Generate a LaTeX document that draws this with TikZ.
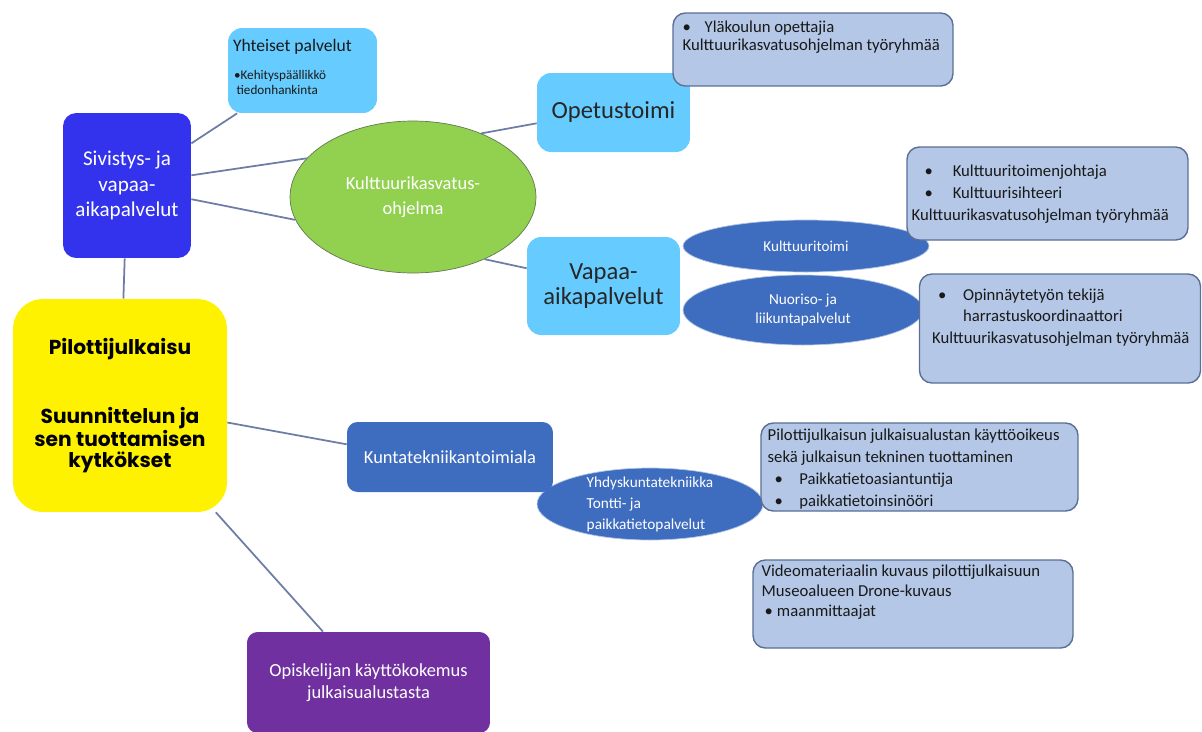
\documentclass[tikz,border=0pt]{standalone}
\usepackage{fontspec}
\setmainfont{Carlito}
\newfontfamily\titlefont{Poppins}
\usepackage{tikz}
\usetikzlibrary{shapes.geometric, positioning}
\definecolor{skyfill}{RGB}{102,204,255}
\definecolor{royal}{RGB}{51,51,238}
\definecolor{leaf}{RGB}{146,208,80}
\definecolor{leafline}{RGB}{100,120,80}
\definecolor{steelfill}{RGB}{180,199,231}
\definecolor{steelline}{RGB}{90,110,150}
\definecolor{midblue}{RGB}{62,108,190}
\definecolor{plum}{RGB}{112,48,160}
\definecolor{linkline}{RGB}{110,125,165}
\newcommand{\bulitem}[1]{\makebox[#1][l]{\textbullet}}
\tikzstyle{skybox} = [rectangle, fill=skyfill, rounded corners=8pt, text=black!85, align=center, font=\fontsize{14}{14}\selectfont]
\tikzstyle{steelbox} = [rectangle, draw=steelline, line width=0.8pt, fill=steelfill, rounded corners=7pt]
\tikzstyle{note} = [anchor=north west, inner sep=0pt, align=left, text=black!90, font=\fontsize{9.5}{12.5}\selectfont]
\tikzstyle{oval} = [ellipse, draw=white!60!midblue, fill=midblue, text=white, align=center, inner sep=0pt]
\tikzstyle{link} = [draw=linkline, line width=1pt]

\begin{document}
\begin{tikzpicture}[x=0.02cm, y=-0.02cm]
            \useasboundingbox (0,0) rectangle (1202,731);
            % Ellipses
            \node[ellipse, draw=leafline, fill=leaf, text=white, align=center, inner sep=0pt, minimum width=4.92cm, minimum height=3.04cm, font=\fontsize{10.5}{14}\selectfont] (kko) at (413,197) {Kulttuurikasvatus-\\ohjelma};
            \node[oval, minimum width=4.92cm, minimum height=1.04cm, font=\fontsize{8.6}{10}\selectfont] (ktt) at (806,246) {Kulttuuritoimi};
            \node[oval, minimum width=4.80cm, minimum height=1.40cm, font=\fontsize{8.7}{10.8}\selectfont] (nuo) at (803,310) {Nuoriso- ja\\liikuntapalvelut};
            \node[oval, align=left, inner ysep=-4pt, minimum width=4.52cm, minimum height=1.44cm, font=\fontsize{8.7}{12}\selectfont] (yhd) at (650,504) {Yhdyskuntatekniikka\\Tontti- ja\\paikkatietopalvelut};

            % Boxes
            \node[skybox, minimum width=2.98cm, minimum height=1.70cm,
                label={[note, font=\fontsize{10}{12}\selectfont, xshift=0.1cm, yshift=-0.22cm]north west:{Yhteiset palvelut}},
                label={[note, font=\fontsize{7.5}{8.8}\selectfont, xshift=0.12cm, yshift=-0.84cm]north west:{\textbullet Kehityspäällikkö\\\hspace*{1.5pt}tiedonhankinta}}] (yht) at (302.5,70.5) {};
            \node[rectangle, fill=royal, rounded corners=7.5pt, text=white, align=center, font=\fontsize{12}{14.5}\selectfont, minimum width=2.56cm, minimum height=2.90cm] (siv) at (127,185.5) {Sivistys- ja\\vapaa-\\aikapalvelut};
            \node[skybox, minimum width=3.06cm, minimum height=1.58cm] (ope) at (613.5,112.5) {Opetustoimi};
            \node[steelbox, minimum width=5.60cm, minimum height=1.46cm,
                label={[note, font=\fontsize{9.5}{10.5}\selectfont, xshift=0.2cm, yshift=-0.16cm]north west:{\bulitem{12.5pt}Yläkoulun opettajia\\Kulttuurikasvatusohjelman työryhmää}}] (ylk) at (813,49.5) {};
            \node[skybox, minimum width=3.06cm, minimum height=1.96cm] (vap) at (603.5,286) {Vapaa-\\aikapalvelut};
            \node[steelbox, minimum width=5.62cm, minimum height=1.86cm,
                label={[note, xshift=0.1cm, yshift=-0.36cm]north west:{\hspace*{7.4pt}\bulitem{16pt}Kulttuuritoimenjohtaja\\\hspace*{7.4pt}\bulitem{16pt}Kulttuurisihteeri\\Kulttuurikasvatusohjelman työryhmää}}] (kjo) at (1047.5,193.5) {};
            \node[steelbox, minimum width=5.62cm, minimum height=2.18cm,
                label={[note, font=\fontsize{9.5}{12.2}\selectfont, xshift=0.26cm, yshift=-0.3cm]north west:{\hspace*{3.4pt}\bulitem{14.2pt}Opinnäytetyön tekijä\\\hspace*{17.6pt}harrastuskoordinaattori\\Kulttuurikasvatusohjelman työryhmää}}] (opt) at (1060,328.5) {};
            \node[rectangle, fill=yellow, rounded corners=17pt, align=center, font=\titlefont\bfseries\fontsize{11.5}{12}\selectfont, minimum width=4.28cm, minimum height=4.26cm] (pil) at (120,405.5) {Pilottijulkaisu\\[26pt]Suunnittelun ja\\sen tuottamisen\\kytkökset};
            \node[rectangle, fill=midblue, rounded corners=6pt, text=white, font=\fontsize{10.5}{12}\selectfont, minimum width=4.12cm, minimum height=1.40cm] (kun) at (450,457) {Kuntatekniikantoimiala};
            \node[steelbox, minimum width=6.34cm, minimum height=1.76cm,
                label={[note, xshift=0.14cm, yshift=-0.12cm]north west:{Pilottijulkaisun julkaisualustan käyttöoikeus\\sekä julkaisun tekninen tuottaminen\\\hspace*{4pt}\bulitem{14pt}Paikkatietoasiantuntija\\\hspace*{4pt}\bulitem{14pt}paikkatietoinsinööri}}] (tek) at (919.5,467) {};
            \node[steelbox, minimum width=6.40cm, minimum height=1.76cm,
                label={[note, font=\fontsize{9.5}{11.4}\selectfont, xshift=0.18cm, yshift=-0.1cm]north west:{Videomateriaalin kuvaus pilottijulkaisuun\\Museoalueen Drone-kuvaus\\\hspace*{1.7pt}\bulitem{7pt}maanmittaajat}}] (vid) at (913,604) {};
            \node[rectangle, fill=plum, rounded corners=6pt, text=white, align=center, font=\fontsize{10.5}{12.5}\selectfont, minimum width=4.86cm, minimum height=2.02cm] (opi) at (368.5,682.5) {Opiskelijan käyttökokemus\\julkaisualustasta};

            % Edges
            \draw[link] (siv) -- (yht);
            \draw[link] (siv.9) -- (kko.160);
            \draw[link] (siv.-12) -- (kko.191);
            \draw[link] (siv) -- (pil);
            \draw[link] (kko.43) -- (ope.188);
            \draw[link] (kko.-41) -- (vap.167);
            \draw[link] (pil.-9) -- (kun.173);
            \draw[link] (pil) -- (opi);
        \end{tikzpicture}
\end{document}
